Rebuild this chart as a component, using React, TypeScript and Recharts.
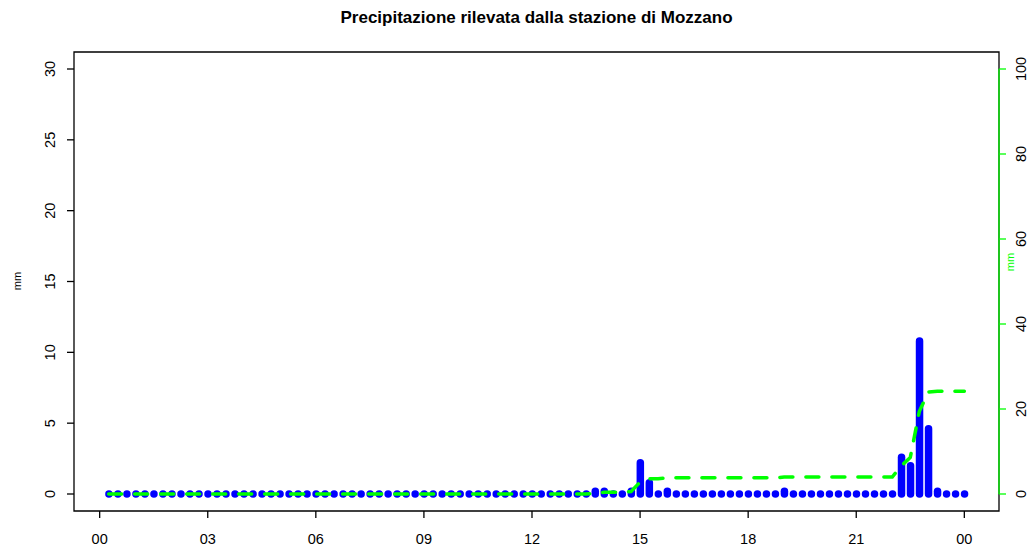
import { ComposedChart, Bar, Line, XAxis, YAxis, ReferenceArea, ReferenceLine } from 'recharts';

// 15-minute rainfall (mm), from 00:15 to 24:00, three hours per row
const rain = [
  0, 0, 0, 0, 0, 0, 0, 0, 0, 0, 0, 0,
  0, 0, 0, 0, 0, 0, 0, 0, 0, 0, 0, 0,
  0, 0, 0, 0, 0, 0, 0, 0, 0, 0, 0, 0,
  0, 0, 0, 0, 0, 0, 0, 0, 0, 0, 0, 0,
  0, 0, 0, 0, 0, 0, 0.2, 0.2, 0, 0, 0.2, 2.2,
  0.8, 0, 0.2, 0, 0, 0, 0, 0, 0, 0, 0, 0,
  0, 0, 0, 0.2, 0, 0, 0, 0, 0, 0, 0, 0,
  0, 0, 0, 0, 2.6, 2.0, 10.8, 4.6, 0.2, 0, 0, 0,
];

const STEP_MIN = 15;
const hourTicks = [0, 180, 360, 540, 720, 900, 1080, 1260, 1440];
const hourLabels = ['00', '03', '06', '09', '12', '15', '18', '21', '00'];
const mmTicks = [0, 5, 10, 15, 20, 25, 30];
const cumTicks = [0, 20, 40, 60, 80, 100];

// R-style 4% padding around the data ranges
const X_DOMAIN: [number, number] = [-42.75, 1497.75];
const L_DOMAIN: [number, number] = [-1.2, 31.2];
const R_DOMAIN: [number, number] = [-4, 104];

let running = 0;
const data = rain.map((v, i) => {
  running = Math.round((running + v) * 10) / 10;
  return { t: (i + 1) * STEP_MIN, rain: v, cum: running };
});

const FONT = '"Liberation Sans", Arial, Helvetica, sans-serif';
const BLUE = '#0000FF';
const GREEN = '#00FF00';
const LW = 7.5;
const TICK_FS = 14.5;

// type="h" style stick with round ends; zero values become dots
function Stick(props: any) {
  const { x, y, width, height } = props;
  if (x == null || y == null) return null;
  const cx = x + (width || 0) / 2;
  const top = Math.min(y, y + (height || 0));
  const h = Math.abs(height || 0);
  return (
    <rect x={cx - LW / 2} y={top - LW / 2} width={LW} height={h + LW} rx={LW / 2} ry={LW / 2} fill={BLUE} />
  );
}

function XTick({ x, y, payload }: any) {
  const idx = hourTicks.indexOf(payload.value);
  return (
    <text x={x} y={y + 24} textAnchor="middle" fontSize={TICK_FS} fontFamily={FONT} fill="#000">
      {hourLabels[idx] ?? ''}
    </text>
  );
}

function LeftTick({ y, payload }: any) {
  return (
    <text x={55} y={y} transform={`rotate(-90, 55, ${y})`} textAnchor="middle" fontSize={TICK_FS} fontFamily={FONT} fill="#000">
      {payload.value}
    </text>
  );
}

function RightTick({ y, payload }: any) {
  return (
    <text x={1026} y={y} transform={`rotate(-90, 1026, ${y})`} textAnchor="middle" fontSize={TICK_FS} fontFamily={FONT} fill="#000">
      {payload.value}
    </text>
  );
}

export default function App() {
  return (
    <div style={{ position: 'absolute', left: 0, top: 0, width: 1029, height: 552, background: '#fff' }}>
      <ComposedChart width={1029} height={552} data={data} margin={{ top: 52, right: 0, bottom: 0, left: 0 }}>
        <XAxis
          dataKey="t" type="number" domain={X_DOMAIN} ticks={hourTicks} allowDataOverflow
          axisLine={false} tickLine={{ stroke: '#000', strokeWidth: 1.3 }} tickSize={7} height={41}
          tick={<XTick />} interval={0}
        />
        <YAxis
          yAxisId="left" domain={L_DOMAIN} ticks={mmTicks} allowDataOverflow width={74}
          axisLine={false} tickLine={{ stroke: '#000', strokeWidth: 1.3 }} tickSize={7}
          tick={<LeftTick />} interval={0}
        />
        <YAxis
          yAxisId="right" orientation="right" domain={R_DOMAIN} ticks={cumTicks} allowDataOverflow width={30}
          axisLine={false} tickLine={{ stroke: GREEN, strokeWidth: 1.3 }} tickSize={7}
          tick={<RightTick />} interval={0}
        />
        <ReferenceArea
          yAxisId="left" x1={X_DOMAIN[0]} x2={X_DOMAIN[1]} y1={L_DOMAIN[0]} y2={L_DOMAIN[1]}
          fill="none" fillOpacity={0} stroke="#000" strokeWidth={1.3} strokeOpacity={1} ifOverflow="visible"
        />
        <Bar
          yAxisId="left" dataKey="rain" barSize={LW} shape={<Stick />}
          isAnimationActive={false}
        />
        <Line
          yAxisId="right" dataKey="cum" type="linear" stroke={GREEN} strokeWidth={3.5}
          strokeDasharray="13 13" strokeLinecap="round" dot={false} activeDot={false}
          isAnimationActive={false}
        />
        <ReferenceLine
          yAxisId="right" ifOverflow="visible" stroke={GREEN} strokeWidth={1.3}
          segment={[{ x: X_DOMAIN[1], y: 0 }, { x: X_DOMAIN[1], y: 100 }]}
        />
      </ComposedChart>
      <svg width={1029} height={552} style={{ position: 'absolute', left: 0, top: 0, pointerEvents: 'none' }}>
        <text x={536.5} y={23} textAnchor="middle" fontSize={17} fontWeight="bold" fontFamily={FONT} fill="#000">
          Precipitazione rilevata dalla stazione di Mozzano
        </text>
        <text x={21} y={281} transform="rotate(-90, 21, 281)" textAnchor="middle" fontSize={11} fontFamily={FONT} fill="#000">
          mm
        </text>
        <text x={1014} y={262} transform="rotate(-90, 1014, 262)" textAnchor="middle" fontSize={11} fontFamily={FONT} fill={GREEN}>
          mm
        </text>
      </svg>
    </div>
  );
}
